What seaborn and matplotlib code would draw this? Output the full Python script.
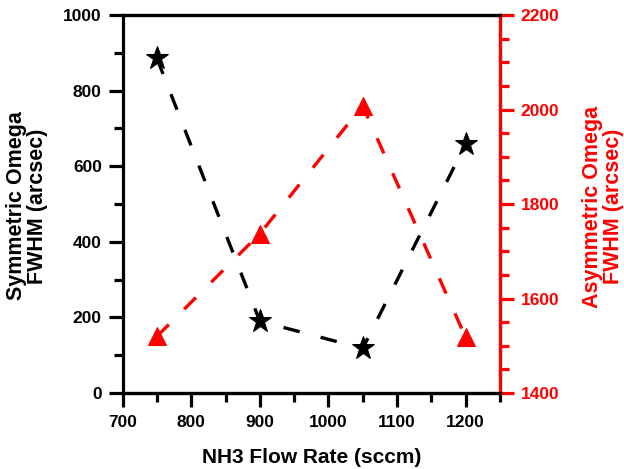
import matplotlib
matplotlib.use("Agg")
import matplotlib.pyplot as plt
import seaborn as sns
import pandas as pd
from matplotlib.ticker import MultipleLocator

flow = [750, 900, 1050, 1200]
sym_fwhm = [885, 190, 118, 658]
asym_fwhm = [1520, 1737, 2008, 1518]

sns.set_style("ticks")
plt.rcParams['font.family'] = ['Liberation Sans', 'DejaVu Sans']
plt.rcParams['font.weight'] = 'bold'
for k in ['axes.edgecolor', 'text.color', 'xtick.color', 'ytick.color', 'axes.labelcolor']:
    plt.rcParams[k] = 'black'

RED = '#FF0000'
df = pd.DataFrame({"flow": flow, "sym": sym_fwhm, "asym": asym_fwhm})

fig = plt.figure(figsize=(6.24, 4.69), dpi=100)
ax = fig.add_axes([0.1966, 0.162, 0.6044, 0.806])
ax2 = ax.twinx()

sns.lineplot(data=df, x="flow", y="sym", ax=ax, color='black', marker='*',
             markersize=17, markeredgecolor='black', linestyle=(0, (5, 6.5)),
             linewidth=2.4)
sns.lineplot(data=df, x="flow", y="asym", ax=ax2, color=RED, marker='^',
             markersize=13, markeredgecolor=RED, linestyle=(0, (5, 6.5)),
             linewidth=2.4)

ax.set_xlim(700, 1250)
ax.set_ylim(0, 1000)
ax2.set_ylim(1400, 2200)
ax.set_xticks([700, 800, 900, 1000, 1100, 1200])
ax.xaxis.set_minor_locator(MultipleLocator(50))
ax.set_yticks([0, 200, 400, 600, 800, 1000])
ax.yaxis.set_minor_locator(MultipleLocator(100))
ax2.set_yticks([1400, 1600, 1800, 2000, 2200])
ax2.yaxis.set_minor_locator(MultipleLocator(50))

for a in (ax, ax2):
    for s in a.spines.values():
        s.set_linewidth(2.3)
        s.set_visible(True)
        s.set_color('black')
ax2.spines['right'].set_color(RED)
ax2.spines['left'].set_visible(False)

ax.tick_params(axis='both', which='major', length=10, width=2.3, labelsize=12.5, pad=5, colors='black')
ax.tick_params(axis='x', which='major', pad=6)
ax.tick_params(axis='both', which='minor', length=6.5, width=2.3, colors='black')
ax.tick_params(axis='y', which='both', right=False)
ax2.tick_params(axis='y', which='major', length=10, width=2.3, labelsize=12.5, pad=5, colors=RED)
ax2.tick_params(axis='y', which='minor', length=6.5, width=2.3, colors=RED)

for lab in ax.get_xticklabels() + ax.get_yticklabels() + ax2.get_yticklabels():
    lab.set_fontweight('bold')

ax.set_xlabel("NH3 Flow Rate (sccm)", fontsize=15, fontweight='bold', va='center', color='black')
ax.xaxis.set_label_coords(0.5, -0.17)
ax.set_ylabel("Symmetric Omega\nFWHM (arcsec)", fontsize=15.5, fontweight='bold',
              va='center', linespacing=1.0, color='black')
ax.yaxis.set_label_coords(-0.255, 0.495)
ax2.set_ylabel("Asymmetric Omega\nFWHM (arcsec)", fontsize=15.5, fontweight='bold',
               color=RED, rotation=90, va='center', linespacing=1.0)
ax2.yaxis.set_label_coords(1.273, 0.493)

fig.savefig("out.png", dpi=100)
